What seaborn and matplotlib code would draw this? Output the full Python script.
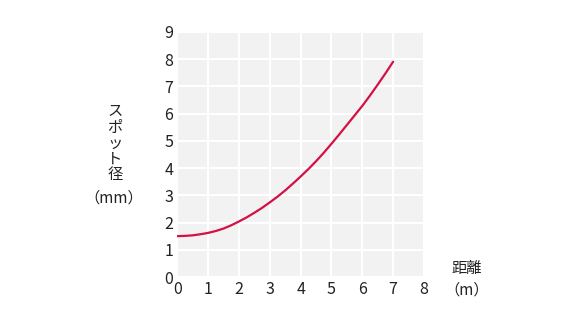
import matplotlib
matplotlib.use("Agg")
import matplotlib.pyplot as plt
import seaborn as sns
import pandas as pd

distance = [0, 0.25, 0.5, 0.75, 1, 1.25, 1.5, 1.75, 2, 2.25, 2.5, 2.75, 3, 3.25, 3.5,
            3.75, 4, 4.25, 4.5, 4.75, 5, 5.25, 5.5, 5.75, 6, 6.25, 6.5, 6.75, 7]
spot = [1.50, 1.51, 1.53, 1.57, 1.62, 1.69, 1.78, 1.90, 2.04, 2.19, 2.36, 2.54, 2.74, 2.95, 3.18,
        3.43, 3.69, 3.96, 4.25, 4.56, 4.89, 5.23, 5.58, 5.93, 6.28, 6.66, 7.06, 7.47, 7.90]
x_ticks = [0, 1, 2, 3, 4, 5, 6, 7, 8]
y_ticks = [0, 1, 2, 3, 4, 5, 6, 7, 8, 9]

sns.set_theme(style="darkgrid", rc={
    "axes.facecolor": "#f2f2f2",
    "grid.color": "white",
    "grid.linewidth": 1.5,
    "axes.edgecolor": "none",
})
plt.rcParams["font.family"] = ["Noto Sans CJK JP", "DejaVu Sans"]

df = pd.DataFrame({"distance": distance, "spot": spot})

fig = plt.figure(figsize=(5.76, 3.24), dpi=100)
ax = fig.add_axes([0.308, 0.145, 0.428, 0.757])
sns.lineplot(data=df, x="distance", y="spot", ax=ax, color="#d31145", linewidth=1.6)
ax.lines[0].set_solid_joinstyle("round")

ax.set_xlim(0, 8)
ax.set_ylim(0, 9)
ax.set_xticks(x_ticks)
ax.set_yticks(y_ticks)
ax.tick_params(axis="both", length=0, labelsize=11.5, colors="#222222", pad=3)
ax.set_xlabel("")
ax.set_ylabel("")
for s in ax.spines.values():
    s.set_visible(False)

fig.text(115 / 576, 1 - 143 / 324, "ス\nポ\nッ\nト\n径", ha="center", va="center",
         fontsize=11, color="#222222", linespacing=0.92)
fig.text(114 / 576, 1 - 198 / 324, "（mm）", ha="center", va="center",
         fontsize=11, color="#222222")
fig.text(467 / 576, 1 - 269 / 324, "距離", ha="center", va="center",
         fontsize=11, color="#222222")
fig.text(467 / 576, 1 - 290 / 324, "（m）", ha="center", va="center",
         fontsize=11, color="#222222")

fig.savefig("out.png", dpi=100)
